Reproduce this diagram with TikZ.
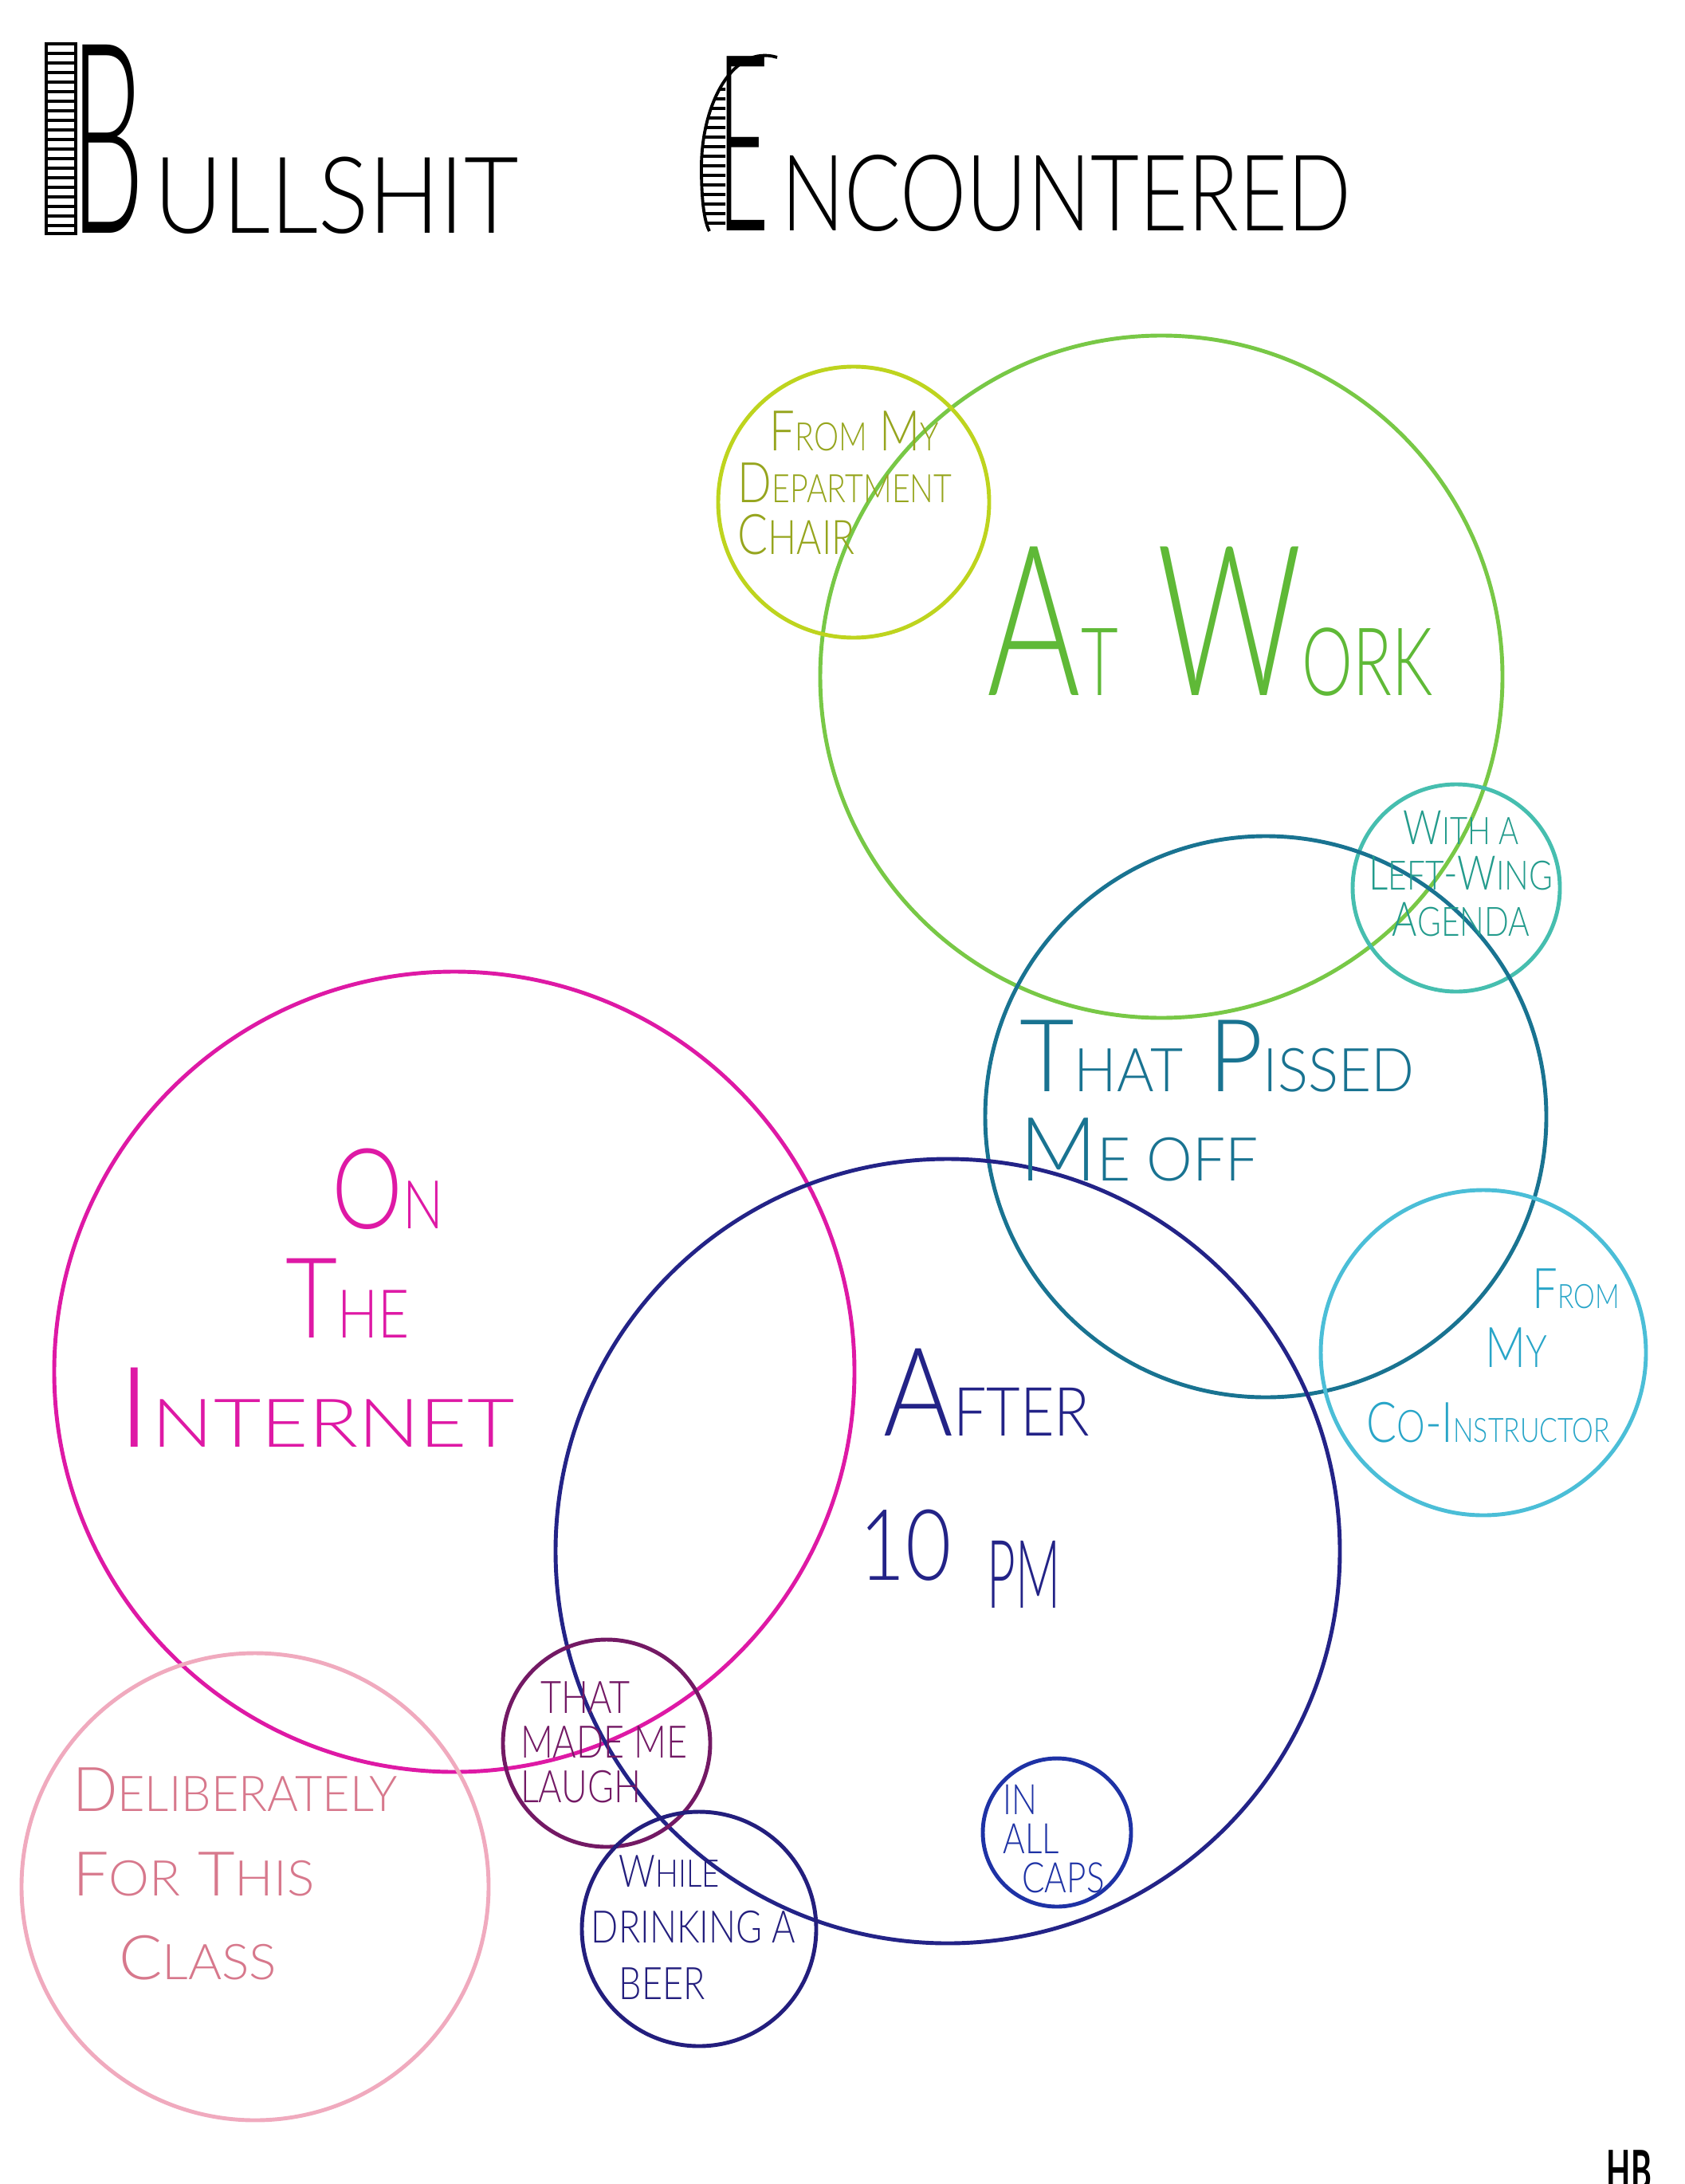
\documentclass[tikz,border=0pt]{standalone}
\usepackage{fontspec}
\setmainfont{Lato Light}[FakeStretch=0.8]
\newfontfamily\sigfont{Lato}[FakeStretch=0.8]
\usepackage{tikz}
\usetikzlibrary{positioning}
\definecolor{workgreen}{RGB}{120,200,70}
\definecolor{worktext}{RGB}{95,185,55}
\definecolor{chairyellow}{RGB}{190,212,30}
\definecolor{chairtext}{RGB}{150,165,30}
\definecolor{wingteal}{RGB}{70,190,175}
\definecolor{wingtext}{RGB}{35,155,140}
\definecolor{pissedteal}{RGB}{25,115,145}
\definecolor{coincyan}{RGB}{75,190,215}
\definecolor{cointext}{RGB}{40,165,200}
\definecolor{netpink}{RGB}{222,25,165}
\definecolor{afternavy}{RGB}{35,35,135}
\definecolor{classpink}{RGB}{240,170,190}
\definecolor{classtext}{RGB}{215,120,140}
\definecolor{laughpurple}{RGB}{115,25,100}
\definecolor{beernavy}{RGB}{35,30,125}
\definecolor{capsblue}{RGB}{30,50,165}
\newcommand{\smallc}[2][0.6]{\scalebox{#1}{#2}}
\newcommand{\wide}[2]{\scalebox{#1}[1]{#2}}
\tikzset{
  venn/.style={circle, draw, line width=1.4pt, minimum size=#1, inner sep=0pt},
  hand/.style={inner sep=0pt, align=center},
  hatch/.style={line width=1.1pt, color=black}
}

\begin{document}
\begin{tikzpicture}
  \useasboundingbox (0,0) rectangle (21.14,-27.40);

  % Title, B and E with hatched stems
  \node[hand, anchor=base west, font={\fontsize{95}{95}\selectfont}] (tbull) at (0.88,-2.93)
    {\scalebox{0.55}[1]{B}\hspace{0.12cm}\scalebox{0.443}[0.4]{ULLSHIT}};
  \node[hand, anchor=base west, font={\fontsize{88}{88}\selectfont}] (tenc) at (9.0,-2.90)
    {\scalebox{0.45}[1]{E}\hspace{0.15cm}\scalebox{0.425}[0.43]{NCOUNTERED}};
  \draw[hatch] (0.58,-0.55) rectangle (0.95,-2.93);
  \foreach \y in {0.67,0.79,...,2.85}
    \draw[hatch] (0.58,-\y) -- (0.95,-\y);
  \begin{scope}
    \clip (9.75,-0.72) .. controls (9.2,-0.55) and (8.8,-1.3) .. (8.8,-2.1)
      .. controls (8.8,-2.6) and (8.85,-2.8) .. (8.9,-2.9) -- (9.1,-2.9) -- (9.1,-0.9) -- cycle;
    \foreach \y in {1.0,1.12,...,2.85}
      \draw[hatch] (8.7,-\y) -- (9.2,-\y);
  \end{scope}
  \draw[hatch] (9.75,-0.72) .. controls (9.2,-0.55) and (8.8,-1.3) .. (8.8,-2.1)
    .. controls (8.8,-2.6) and (8.85,-2.8) .. (8.9,-2.9);

  % The sets
  \node[venn=8.56cm, draw=workgreen] (work) at (14.57,-8.49) {};
  \node[venn=3.40cm, draw=chairyellow] (chair) at (10.71,-6.30) {};
  \node[venn=2.60cm, draw=wingteal] (wing) at (18.27,-11.14) {};
  \node[venn=7.04cm, draw=pissedteal] (pissed) at (15.88,-14.01) {};
  \node[venn=4.08cm, draw=coincyan] (coin) at (18.61,-16.97) {};
  \node[venn=10.04cm, draw=netpink] (net) at (5.70,-17.21) {};
  \node[venn=9.84cm, draw=afternavy] (after) at (11.89,-19.46) {};
  \node[venn=5.86cm, draw=classpink] (class) at (3.20,-23.67) {};
  \node[venn=2.60cm, draw=laughpurple] (laugh) at (7.61,-21.87) {};
  \node[venn=2.94cm, draw=beernavy] (beer) at (8.77,-24.20) {};
  \node[venn=1.86cm, draw=capsblue] (caps) at (13.26,-22.99) {};

  % Labels
  \node[hand, align=left, text=chairtext, font={\fontsize{20}{18.5}\selectfont}] (chairlbl) at (10.60,-6.06)
    {\hspace*{0.4cm}F\smallc[0.7]{ROM} M\smallc[0.7]{Y}\\D\smallc[0.7]{EPARTMENT}\\C\smallc[0.85]{HAIR}};
  \node[hand, anchor=base west, text=worktext, font={\fontsize{75}{75}\selectfont}] (worklbl) at (12.38,-8.72)
    {\wide{0.85}{A\smallc[0.45]{T} W\smallc[0.45]{ORK}}};
  \node[hand, text=wingtext, font={\fontsize{17}{16.3}\selectfont}] (winglbl) at (18.33,-10.96)
    {W\smallc[0.8]{ITH A}\\L\smallc[0.85]{EFT}-W\smallc[0.85]{ING}\\A\smallc[0.85]{GENDA}};
  \node[hand, align=left, text=pissedteal, font={\fontsize{36}{32}\selectfont}] (pissedlbl) at (15.27,-13.81)
    {\wide{1.17}{T\smallc{HAT} P\smallc{ISSED}}\\\wide{1.2}{\smallc[0.88]{M}\smallc{E OFF}}};
  \node[hand, text=cointext, font={\fontsize{20}{21}\selectfont}] (coinlbl) at (18.67,-17.01)
    {\hspace*{2.2cm}F\smallc{ROM}\\\hspace*{0.7cm}M\smallc[0.8]{Y}\\[6pt]C\smallc[0.8]{O}-I\smallc{NSTRUCTOR}};
  \node[hand, text=netpink, font={\fontsize{40}{39}\selectfont}] (netlbl) at (3.96,-16.28)
    {\hspace*{1.8cm}O\smallc{N}\\\hspace*{0.8cm}T\smallc{HE}\\\wide{1.52}{I\smallc{NTERNET}}};
  \node[hand, align=left, anchor=north west, text=afternavy, font={\fontsize{44}{51.6}\selectfont}] (afterlbl) at (10.78,-16.91)
    {\hspace*{0.3cm}\wide{1.08}{A\smallc[0.55]{FTER}}\\\smallc[0.8]{10}\hspace{0.45cm}\raisebox{-0.35cm}{\scalebox{0.5}[0.77]{PM}}};
  \node[hand, align=left, text=classtext, font={\fontsize{22}{30}\selectfont}] (classlbl) at (2.95,-23.51)
    {\wide{1.2}{D\smallc[0.8]{ELIBERATELY}}\\\wide{1.3}{F\smallc[0.8]{OR} T\smallc[0.8]{HIS}}\\\hspace*{0.58cm}\wide{1.3}{C\smallc[0.8]{LASS}}};
  \node[hand, align=left, text=laughpurple, font={\fontsize{16}{16}\selectfont}] (laughlbl) at (7.58,-21.86)
    {\hspace*{0.25cm}THAT\\MADE ME\\LAUGH};
  \node[hand, align=left, text=beernavy, font={\fontsize{16}{20}\selectfont}] (beerlbl) at (8.70,-24.18)
    {\hspace*{0.35cm}W\smallc[0.85]{HILE}\\DRINKING A\\\hspace*{0.35cm}BEER};
  \node[hand, align=left, text=capsblue, font={\fontsize{15}{14}\selectfont}] (capslbl) at (13.22,-23.07)
    {IN\\ALL\\\hspace*{0.24cm}CAPS};
  \node[hand, anchor=north west, font={\sigfont\bfseries\fontsize{20}{20}\selectfont}] (sig) at (20.15,-26.97) {\wide{0.7}{HB}};
\end{tikzpicture}
\end{document}
